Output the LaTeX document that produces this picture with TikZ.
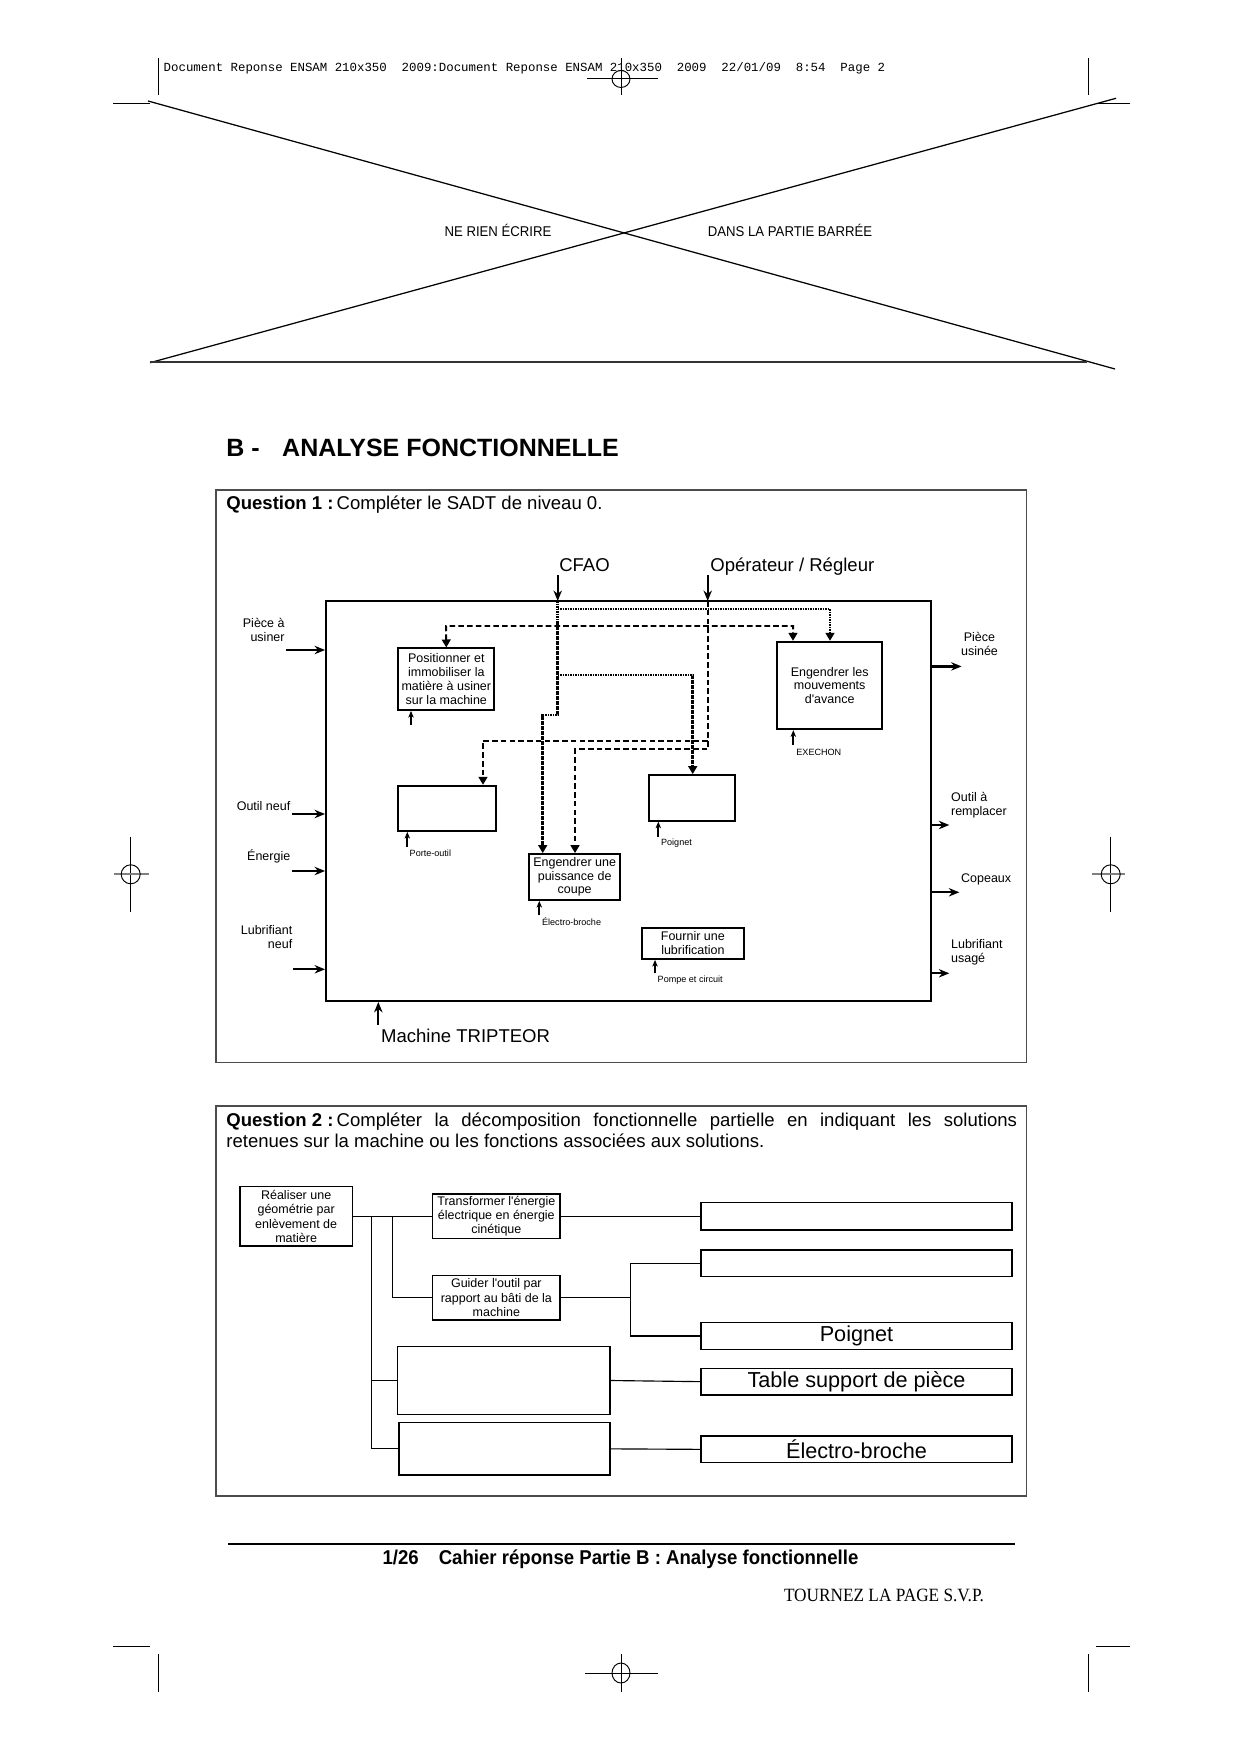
\documentclass[tikz,border=0pt]{standalone}
\usepackage{fontspec}
\setmainfont{Liberation Sans}
\newfontfamily\narrowsans[FakeStretch=0.93]{Liberation Sans}
\newfontfamily\tourfont[FakeStretch=0.92]{Liberation Serif}
\newfontfamily\hdrmono{Liberation Mono}
\usetikzlibrary{arrows.meta,fit}
\definecolor{framegray}{gray}{0.3}
\definecolor{markgray}{gray}{0.5}
\tikzset{
  tri/.tip={Triangle[length=3.8pt,width=4.2pt]},
  cropline/.style={line width=0.45pt},
  graymark/.style={line width=0.9pt,draw=markgray},
  xline/.style={line width=0.6pt},
  qframe/.style={draw=framegray,line width=0.7pt,inner sep=0pt},
  mainbox/.style={draw,line width=0.9pt,inner sep=0pt},
  sbox/.style={draw,line width=0.85pt,inner sep=0pt},
  sboxtxt/.style={inner sep=0pt,align=center,font=\fontsize{6}{6.6}\selectfont},
  qbox/.style={draw,line width=0.6pt,inner sep=0pt},
  qboxtxt/.style={inner sep=0pt,align=center,font=\fontsize{6}{6.9}\selectfont},
  rbox/.style={draw,line width=0.6pt,inner sep=0pt},
  rboxtxt/.style={inner sep=0pt,font=\fontsize{10.4}{12}\selectfont},
  lbl/.style={inner sep=0pt,font=\fontsize{6}{6.6}\selectfont},
  tinylbl/.style={inner sep=0pt,font=\fontsize{4.35}{5}\selectfont},
  biglbl/.style={inner sep=0pt,font=\fontsize{8.9}{10}\selectfont},
  ioarrow/.style={line width=1.1pt,-{Stealth[length=5pt,width=4pt,inset=1.6pt]}},
  mech/.style={line width=0.8pt,-{Stealth[length=3.2pt,width=2.6pt,inset=0.9pt]}},
  dotl/.style={line width=1.3pt,dash pattern=on 0.75pt off 0.45pt},
  dshl/.style={line width=0.95pt,dash pattern=on 2.7pt off 1.5pt},
  conn/.style={line width=0.55pt}
}
\begin{document}
\begin{tikzpicture}[x=0.48006pt,y=-0.48006pt]
\fill[white] (0,0) rectangle (1240,1754);
\useasboundingbox (0,0) rectangle (1240,1754);

% ---------- crop marks, header ----------
\draw[cropline] (158.7,58) -- (158.7,95);
\draw[cropline] (1088,58) -- (1088,95);
\draw[cropline] (113,103.3) -- (150,103.3);
\draw[cropline] (1096,103.3) -- (1130,103.3);
\draw[cropline] (621,58) -- (621,95);
\draw[cropline] (587,78) -- (658,78);
\draw[cropline] (621,79) ellipse (9 and 8.5);
\node[anchor=base west,inner sep=0pt,font=\hdrmono\fontsize{5.95}{7}\selectfont] (hdr) at (163.3,72)
 {Document Reponse ENSAM 210x350~~2009:Document Reponse ENSAM 210x350~~2009~~22/01/09~~8:54~~Page 2};

% side marks
\draw[cropline] (130.7,836.7) -- (130.7,911.7);
\draw[graymark] (114,874.3) -- (149.3,874.3);
\draw[cropline] (130.7,874.3) circle (9.5);
\draw[cropline] (1110.7,836.7) -- (1110.7,911.7);
\draw[graymark] (1092,874.3) -- (1125,874.3);
\draw[cropline] (1110.7,874.3) circle (9.5);

% bottom marks
\draw[cropline] (113,1646) -- (150,1646);
\draw[cropline] (1096,1646) -- (1130,1646);
\draw[cropline] (158.7,1654) -- (158.7,1692);
\draw[cropline] (1088,1654) -- (1088,1692);
\draw[cropline] (621,1654) -- (621,1692);
\draw[cropline] (585,1673) -- (658,1673);
\draw[cropline] (621,1673) ellipse (9 and 10);

% ---------- barred zone ----------
\draw[xline] (148,101) -- (1115,369);
\draw[xline] (150,362.7) -- (1116,98.3);
\draw[line width=0.8pt,draw=black!80] (150,361.7) -- (1087,361.7);
\node[anchor=base,inner sep=0pt,font=\narrowsans\fontsize{6.8}{8}\selectfont] (ne) at (498,237) {NE RIEN ÉCRIRE};
\node[anchor=base,inner sep=0pt,font=\narrowsans\fontsize{6.8}{8}\selectfont] (dans) at (790,237) {DANS LA PARTIE BARRÉE};

% ---------- title ----------
\node[anchor=base west,inner sep=0pt,font=\bfseries\fontsize{12}{14}\selectfont] (titB) at (226,456.7) {B -};
\node[anchor=base west,inner sep=0pt,font=\bfseries\fontsize{12}{14}\selectfont] (titA) at (281.8,456.7) {ANALYSE FONCTIONNELLE};

% ---------- Question 1 ----------
\node[qframe,fit={(215.8,490) (1026.4,1062.5)}] (f1) {};
\node[biglbl,anchor=base west] (q1) at (226,510) {\textbf{Question 1 :}\,Compléter le SADT de niveau 0.};

\node[mainbox,fit={(326,601) (931,1001)}] (A0) {};

\node[sbox,fit={(398.3,648.3) (494.3,710)}] (pos) {};
\node[sboxtxt] (posT) at (pos.center) {Positionner et\\immobiliser la\\matière à usiner\\sur la machine};
\node[sbox,fit={(777,641.7) (882.3,729.3)}] (mvt) {};
\node[sboxtxt] (mvtT) at (mvt.center) {Engendrer les\\mouvements\\d\textquotesingle avance};
\node[sbox,fit={(398.3,785.7) (496,831)}] (porte) {};
\node[sbox,fit={(649.3,775) (735,820.7)}] (poign) {};
\node[sbox,fit={(529.3,854) (620,900)}] (puiss) {};
\node[sboxtxt] (puissT) at (puiss.center) {Engendrer une\\puissance de\\coupe};
\node[sbox,fit={(641.7,927.7) (744,959)}] (lub) {};
\node[sboxtxt] (lubT) at (lub.center) {Fournir une\\lubrification};

% controls
\coordinate (cf) at (557.7,601);
\coordinate (op) at (707.7,601);
\coordinate (cfs) at (557.7,575);
\coordinate (ops) at (707.7,575);
\draw[ioarrow] (cfs) -- (cf);
\draw[ioarrow] (ops) -- (op);
\node[biglbl,anchor=base] (cfao) at (584.5,571.7) {CFAO};
\node[biglbl,anchor=base west] (oper) at (710,571.7) {Opérateur / Régleur};

% dotted (CFAO)
\draw[dotl,-tri] (cf) -- (557.7,715) -- (542.7,715) -- (puiss.north -| 542.7,0);
\draw[dotl,-tri] (557.7,609) -- (830,609) -- (mvt.north -| 830,0);
\draw[dotl,-tri] (557.7,675) -- (692.7,675) -- (poign.north -| 692.7,0);

% dashed (Operateur)
\draw[dshl,-tri] (op) -- (707.7,749.3) -- (575,749.3) -- (puiss.north -| 575,0);
\draw[dshl,-tri] (707.7,740.7) -- (483,740.7) -- (porte.north -| 483,0);
\draw[dshl,tri-tri] (pos.north) -- (446,626) -- (793,626) -- (mvt.north -| 793,0);

% mechanisms
\coordinate (m1) at (411,725);
\coordinate (m2) at (793.3,745);
\coordinate (m3) at (407.3,846.7);
\coordinate (m4) at (658.3,836.7);
\coordinate (m5) at (539.3,915);
\coordinate (m6) at (655,973.3);
\draw[mech] (m1) -- (pos.south -| m1);
\draw[mech] (m2) -- (mvt.south -| m2);
\draw[mech] (m3) -- (porte.south -| m3);
\draw[mech] (m4) -- (poign.south -| m4);
\draw[mech] (m5) -- (puiss.south -| m5);
\draw[mech] (m6) -- (lub.south -| m6);
\node[tinylbl,anchor=base west] (exe) at (796,755) {EXECHON};
\node[tinylbl,anchor=base west] (pto) at (409.3,856.7) {Porte-outil};
\node[tinylbl,anchor=base west] (pgn) at (660.7,845) {Poignet};
\node[tinylbl,anchor=base west] (ebr) at (541.7,925) {Électro-broche};
\node[tinylbl,anchor=base west] (pmp) at (657.3,982.3) {Pompe et circuit};

\coordinate (mm) at (378.3,1025);
\draw[ioarrow] (mm) -- (A0.south -| mm);
\node[biglbl,anchor=base west] (mach) at (380.7,1042.7) {Machine TRIPTEOR};

% inputs
\coordinate (i1) at (286,650);
\coordinate (i2) at (291.7,814);
\coordinate (i3) at (292,871);
\coordinate (i4) at (293.3,969.3);
\draw[ioarrow] (i1) -- (A0.west |- i1);
\draw[ioarrow] (i2) -- (A0.west |- i2);
\draw[ioarrow] (i3) -- (A0.west |- i3);
\draw[ioarrow] (i4) -- (A0.west |- i4);
\node[lbl,anchor=base east,align=right] (li1) at (285,641.7) {Pièce à\\usiner};
\node[lbl,anchor=base east] (li2) at (290.7,810.7) {Outil neuf};
\node[lbl,anchor=base east] (li3) at (290.7,860.7) {Énergie};
\node[lbl,anchor=base east,align=right] (li4) at (292.7,948.3) {Lubrifiant\\neuf};

% outputs
\coordinate (o1) at (961.6,666.4);
\coordinate (o2) at (949.3,825);
\coordinate (o3) at (959.3,892.3);
\coordinate (o4) at (949.3,973.3);
\draw[ioarrow] (A0.east |- o1) -- (o1);
\draw[ioarrow] (A0.east |- o2) -- (o2);
\draw[ioarrow] (A0.east |- o3) -- (o3);
\draw[ioarrow] (A0.east |- o4) -- (o4);
\node[lbl,anchor=base,align=center] (lo1) at (979.5,655) {Pièce\\usinée};
\node[lbl,anchor=base west,align=left] (lo2) at (950.7,815) {Outil à\\remplacer};
\node[lbl,anchor=base west] (lo3) at (960.7,882.7) {Copeaux};
\node[lbl,anchor=base west,align=left] (lo4) at (950.7,962.7) {Lubrifiant\\usagé};

% ---------- Question 2 ----------
\node[qframe,fit={(215.8,1106) (1026.4,1496)}] (f2) {};
\node[anchor=base west,inner sep=0pt,text width=379.6pt,align=justify,font=\fontsize{8.9}{10.2}\selectfont] (q2) at (226,1126)
 {\hbox{\textbf{Question 2 :}}\,Compléter la décomposition fonctionnelle partielle en indiquant les solutions\linebreak retenues sur la machine ou les fonctions associées aux solutions.};

\node[qbox,fit={(240,1186.7) (352.3,1246)}] (real) {};
\node[qboxtxt] (realT) at (real.center) {Réaliser une\\géométrie par\\enlèvement de\\matière};
\node[qbox,fit={(432.7,1194) (560,1238.3)}] (trans) {};
\node[qboxtxt] (transT) at (trans.center) {Transformer l\textquotesingle énergie\\électrique en énergie\\cinétique};
\node[qbox,fit={(432.7,1275.7) (560,1320)}] (guid) {};
\node[qboxtxt] (guidT) at (guid.center) {Guider l\textquotesingle outil par\\rapport au bâti de la\\machine};
\node[qbox,fit={(397.7,1346.7) (610,1414.3)}] (e3) {};
\node[qbox,fit={(399,1422.7) (610,1475)}] (e4) {};
\node[rbox,fit={(701,1202.7) (1012,1230)}] (r1) {};
\node[rbox,fit={(701,1250) (1012,1276.7)}] (r2) {};
\node[rbox,fit={(701,1322.7) (1012,1349.3)}] (r3) {};
\node[rboxtxt] (r3T) at (r3.center) {Poignet};
\node[rbox,fit={(701,1368.3) (1012,1395)}] (r4) {};
\node[rboxtxt] (r4T) at (r4.center) {Table support de pièce};
\node[rbox,fit={(701,1436) (1012,1462.7)}] (r5) {};
\node[rboxtxt] (r5T) at (r5.center) {Électro-broche};

\draw[conn] (real.east |- trans.west) -- (trans.west);
\draw[conn] (371.7,0 |- trans.west) -- (371.7,0 |- e4.west) -- (e4.west);
\draw[conn] (371.7,0 |- e3.west) -- (e3.west);
\draw[conn] (392.7,0 |- trans.west) -- (392.7,0 |- guid.west) -- (guid.west);
\draw[conn] (trans.east) -- (r1.west |- trans.east);
\draw[conn] (guid.east) -- (630.7,0 |- guid.east);
\draw[conn] (r2.west) -- (630.7,0 |- r2.west) -- (630.7,0 |- r3.west) -- (r3.west);
\draw[conn] (e3.east) -- (r4.west);
\draw[conn] (e4.east) -- (r5.west);

% ---------- footer ----------
\draw[line width=0.8pt] (228,1544) -- (1015,1544);
\node[anchor=base,inner sep=0pt,font=\narrowsans\bfseries\fontsize{9.6}{11}\selectfont] (foot) at (620.5,1564.5)
 {1/26\quad Cahier réponse Partie B : Analyse fonctionnelle};
\node[anchor=base,inner sep=0pt,font=\tourfont\fontsize{9}{10}\selectfont] (tour) at (884,1601) {TOURNEZ LA PAGE S.V.P.};
\end{tikzpicture}
\end{document}
